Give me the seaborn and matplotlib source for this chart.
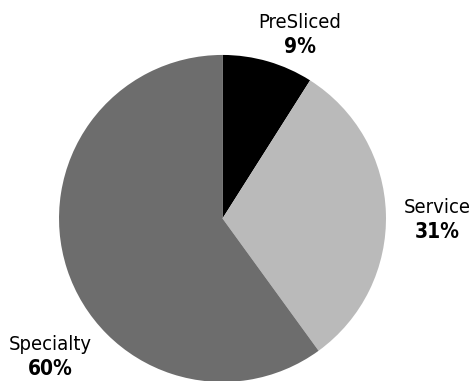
import matplotlib
matplotlib.use("Agg")
import matplotlib.pyplot as plt
import seaborn as sns

categories = ["PreSliced", "Service", "Specialty"]
shares = [9, 31, 60]
colors = ["#000000", "#bababa", "#6d6d6d"]
# label anchor positions in pie-radius units (name line / value line centre)
label_x = [0.474, 1.312, -1.055]
label_y = [1.125, -0.005, -0.845]

sns.set_theme(style="white")
plt.rcParams["font.family"] = ["DejaVu Sans"]

fig = plt.figure(figsize=(4.71, 3.81), dpi=100)
ax = fig.add_axes([0, 0, 1, 1])
ax.pie(shares, colors=colors, startangle=90, counterclock=False,
       radius=1.0, center=(0, 0), wedgeprops=dict(linewidth=0))
ax.set_xlim(-1.361, 1.520)
ax.set_ylim(-0.994, 1.336)
ax.set_aspect("auto")
ax.axis("off")

gap = 0.075
for name, val, x, y in zip(categories, shares, label_x, label_y):
    ax.text(x, y + gap, name, ha="center", va="center", fontsize=14.5,
            fontstretch="condensed", color="#000000")
    ax.text(x, y - gap, f"{val}%", ha="center", va="center", fontsize=15,
            fontstretch="condensed", fontweight="bold", color="#000000")

fig.savefig("out.png", dpi=100)
